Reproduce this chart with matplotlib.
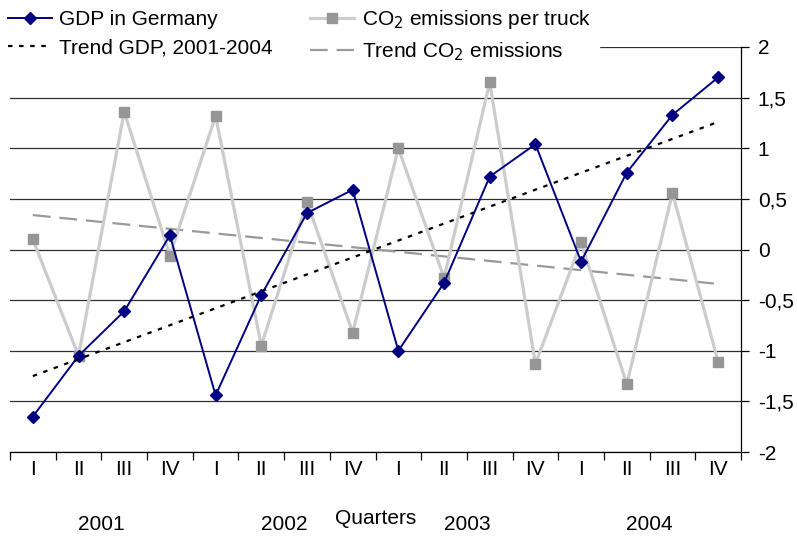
import matplotlib
matplotlib.use("Agg")
import matplotlib.pyplot as plt
from matplotlib.ticker import FuncFormatter, FixedLocator
import matplotlib.transforms as mtransforms

plt.rcParams['font.family'] = ['Liberation Sans', 'DejaVu Sans']

quarters = ["I", "II", "III", "IV"] * 4
years = ["2001", "2002", "2003", "2004"]
gdp = [-1.65, -1.05, -0.61, 0.14, -1.44, -0.45, 0.36, 0.59,
       -1.00, -0.33, 0.72, 1.04, -0.12, 0.76, 1.33, 1.70]
co2 = [0.10, -1.05, 1.36, -0.06, 1.32, -0.95, 0.47, -0.82,
       1.00, -0.28, 1.65, -1.13, 0.07, -1.33, 0.56, -1.11]
trend_gdp = [-1.25, 1.26]   # start / end values of linear trend
trend_co2 = [0.34, -0.34]
yticks = [-2, -1.5, -1, -0.5, 0, 0.5, 1, 1.5, 2]

FS = 15

fig = plt.figure(figsize=(7.97, 5.38), dpi=100)
ax = fig.add_axes([10/797, (538-452)/538, 731/797, 405/538])

n = len(gdp)
x = list(range(n))

ax.set_xlim(-0.5, n - 0.5)
ax.set_ylim(-2, 2)

for v in yticks:
    ax.axhline(v, color='#303030', lw=0.9, zorder=1)

ax.plot(x, co2, color='#CCCCCC', lw=2.3, marker='s', ms=7.5,
        mfc='#969696', mec='#969696', zorder=3, label='CO$_2$ emissions per truck')
ax.plot(x, gdp, color='#000080', lw=1.4, marker='D', ms=6.5,
        mfc='#000080', mec='#000080', zorder=4, label='GDP in Germany')
ax.plot([x[0], x[-1]], trend_gdp, color='black', lw=1.6,
        linestyle=(0, (2, 3)), zorder=5, label='Trend GDP, 2001-2004')
ax.plot([x[0], x[-1]], trend_co2, color='#999999', lw=1.6,
        linestyle=(0, (8, 4)), zorder=2, label='Trend CO$_2$ emissions')

# spines
for s in ['left', 'top']:
    ax.spines[s].set_visible(False)
ax.spines['right'].set_color('black')
ax.spines['bottom'].set_color('black')
ax.spines['right'].set_linewidth(0.9)
ax.spines['bottom'].set_linewidth(0.9)

ax.yaxis.tick_right()
ax.set_yticks(yticks)
ax.yaxis.set_major_formatter(FuncFormatter(
    lambda v, p: ('%g' % v).replace('.', ',')))
ax.tick_params(axis='y', direction='out', length=6, width=0.9,
               labelsize=FS, pad=6)

# x ticks at category boundaries, labels at centres
ax.xaxis.set_major_locator(FixedLocator([i - 0.5 for i in range(n + 1)]))
ax.xaxis.set_minor_locator(FixedLocator(x))
ax.xaxis.set_major_formatter(FuncFormatter(lambda v, p: ''))
ax.set_xticklabels(quarters, minor=True)
ax.tick_params(axis='x', which='major', direction='out', length=6, width=0.9)
ax.tick_params(axis='x', which='minor', length=0, labelsize=FS, pad=6)

trans = mtransforms.blended_transform_factory(ax.transData, fig.transFigure)
for i, yr in enumerate(years):
    ax.text(4 * i + 1.5, 1 - 525/538, yr, transform=trans, ha='center',
            va='center', fontsize=FS)
ax.text(7.5, 1 - 519/538, 'Quarters', transform=trans, ha='center',
        va='center', fontsize=FS)

h, l = ax.get_legend_handles_labels()
order = [1, 2, 0, 3]
h = [h[i] for i in order]
l = [l[i] for i in order]
leg = fig.legend(h, l, loc='upper left', bbox_to_anchor=(0.0, 1.0),
                 ncol=2, frameon=True, fontsize=FS, handlelength=2.1,
                 columnspacing=1.8, borderaxespad=0.0, handletextpad=0.35,
                 labelspacing=0.42, borderpad=0.4)
leg.get_frame().set_facecolor('white')
leg.get_frame().set_edgecolor('white')
leg.get_frame().set_alpha(1)
leg.set_zorder(10)

fig.savefig('out.png', dpi=100)
